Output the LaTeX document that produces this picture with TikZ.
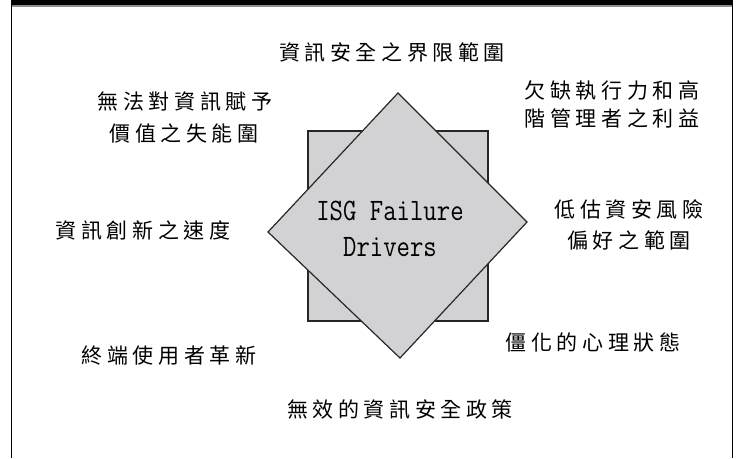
\documentclass[tikz,border=0pt]{standalone}
\usepackage{fontspec}
\usepackage{graphicx}
\newfontfamily\cjk[LetterSpace=22]{Noto Sans CJK TC}
\definecolor{shapegrey}{RGB}{210,210,212}
\tikzset{
  lbl/.style={font=\cjk\fontsize{21}{21}\selectfont, inner sep=0pt, text height=0.84em, text depth=0.08em, anchor=center},
  mono/.style={font=\ttfamily\fontsize{26}{26}\selectfont, inner sep=0pt, anchor=center},
  shapebox/.style={fill=shapegrey, draw=black!85, line width=1.2pt, line join=miter},
  frameline/.style={draw=black, line width=1.3pt}
}
\begin{document}
\begin{tikzpicture}[x=1pt,y=-1pt]
\useasboundingbox (0,0) rectangle (736,458);
% frame
\fill[black] (11,0) rectangle (733,5.2);
\draw[black!45, line width=1.6pt] (11,6) -- (733,6);
\coordinate (fl1) at (11.5,0);
\coordinate (fl2) at (11.5,458);
\coordinate (fr1) at (732.5,0);
\coordinate (fr2) at (732.5,458);
\draw[frameline] (fl1) -- (fl2);
\draw[frameline] (fr1) -- (fr2);
% square and diamond
\coordinate (sq1) at (308,131);
\coordinate (sq2) at (488,321);
\draw[shapebox] (sq1) rectangle (sq2);
\coordinate (dt) at (398,93);
\coordinate (dr) at (527,222);
\coordinate (db) at (400,358);
\coordinate (dl) at (268,232);
\draw[shapebox] (dt) -- (dr) -- (db) -- (dl) -- cycle;
% center text
\node[mono] (isg) at (390,211) {\scalebox{1}[1.2]{ISG Failure}};
\node[mono] (drv) at (390,247) {\scalebox{1}[1.2]{Drivers}};
% labels
\node[lbl] (t1) at (392,57) {資訊安全之界限範圍};
\node[lbl] (t2a) at (185,106) {無法對資訊賦予};
\node[lbl] (t2b) at (184,138) {價值之失能圍};
\node[lbl] (t3a) at (612,95) {欠缺執行力和高};
\node[lbl] (t3b) at (612,123) {階管理者之利益};
\node[lbl] (t4) at (143,235) {資訊創新之速度};
\node[lbl] (t5a) at (629,214) {低估資安風險};
\node[lbl] (t5b) at (629,245) {偏好之範圍};
\node[lbl] (t6) at (169,360) {終端使用者革新};
\node[lbl] (t7) at (593,347) {僵化的心理狀態};
\node[lbl] (t8) at (400,414) {無效的資訊安全政策};
\end{tikzpicture}
\end{document}
